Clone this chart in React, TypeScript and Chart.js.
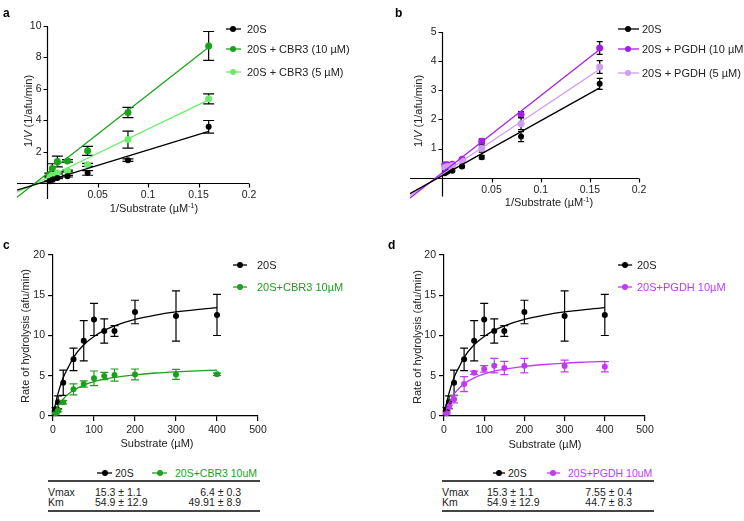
import React, { useEffect, useRef } from 'react';
import { Chart, registerables } from 'chart.js';
Chart.register(...registerables);

const FONT = "'Liberation Sans', Arial, Helvetica, sans-serif";

// ---------- colours ----------
const BLACK = '#000000';
const GREEN = '#19a319';
const LGREEN = '#6aee6a';
const PURPLE = '#a61ee6';
const LPURPLE = '#cf9cf2';
const CGREEN = '#1e9e1e';
const DPURPLE = '#c03af2';

// ---------- Lineweaver-Burk data (panels a, b) ----------
const lbX = [0.0025, 0.005, 0.01, 0.02, 0.04, 0.08, 0.16];
const a20S = [0.13, 0.23, 0.34, 0.45, 0.66, 1.47, 3.59];
const a20SErr = [0.03, 0.03, 0.05, 0.05, 0.15, 0.08, 0.4];
const aCbr10 = [0.55, 0.94, 1.38, 1.42, 2.06, 4.5, 8.73];
const aCbr10Err = [0.1, 0.3, 0.34, 0.08, 0.29, 0.32, 0.92];
const aCbr5 = [0.4, 0.51, 0.66, 0.78, 1.17, 2.78, 5.37];
const aCbr5Err = [0.05, 0.05, 0.06, 0.06, 0.1, 0.54, 0.32];

const aFitX = [-0.03, 0.16];
const aFit20S = [-0.44, 3.3];
const aFitCbr10 = [-0.89, 8.65];
const aFitCbr5 = [-0.57, 5.3];

const b20S = [0.15, 0.2, 0.24, 0.38, 0.7, 1.41, 3.22];
const b20SErr = [0.02, 0.02, 0.03, 0.04, 0.06, 0.17, 0.19];
const bPgdh10 = [0.44, 0.44, 0.46, 0.63, 1.25, 2.17, 4.45];
const bPgdh10Err = [0.03, 0.03, 0.03, 0.05, 0.08, 0.1, 0.22];
const bPgdh5 = [0.35, 0.38, 0.42, 0.58, 1.0, 1.85, 3.8];
const bPgdh5Err = [0.03, 0.03, 0.03, 0.05, 0.12, 0.2, 0.22];

const bFitX = [-0.033, 0.16];
const bFit20S = [-0.55, 3.08];
const bFitPgdh10 = [-0.7, 4.4];
const bFitPgdh5 = [-0.62, 3.72];

const lbXTicks = [0.05, 0.1, 0.15, 0.2];
const aYTicks = [2, 4, 6, 8, 10];
const bYTicks = [1, 2, 3, 4, 5];

// ---------- Michaelis-Menten data (panels c, d) ----------
const subX = [6.25, 12.5, 25, 50, 75, 100, 125, 150, 200, 300, 400];
const mm20S = [0.83, 1.7, 4.14, 7.04, 9.36, 12.0, 10.56, 10.56, 12.92, 12.42, 12.55];
const mm20SErr = [0.2, 0.8, 1.57, 1.4, 2.5, 2.0, 1.5, 0.66, 1.46, 3.12, 2.55];
const mmCbr3 = [0.33, 0.66, 1.7, 3.31, 3.97, 4.68, 4.97, 5.09, 5.17, 5.17, 5.18];
const mmCbr3Err = [0.1, 0.15, 0.2, 0.68, 0.39, 0.91, 0.44, 0.75, 0.67, 0.63, 0.15];
const mmPgdh = [0.33, 1.16, 2.07, 3.97, 5.38, 5.85, 6.25, 5.96, 6.25, 6.21, 6.12];
const mmPgdhErr = [0.1, 0.2, 0.45, 0.93, 0.2, 0.4, 0.9, 0.83, 0.9, 0.73, 0.63];

const fitX = [2, 6.25, 12.5, 25, 37.5, 50, 75, 100, 125, 150, 200, 250, 300, 350, 400];
const fit20S = [0.54, 1.58, 2.84, 4.79, 6.07, 7.29, 8.85, 9.88, 10.63, 11.2, 12.0, 12.54, 12.93, 13.22, 13.45];
const fitCbr3 = [0.25, 0.71, 1.28, 2.13, 2.74, 3.2, 3.84, 4.27, 4.57, 4.8, 5.12, 5.34, 5.49, 5.6, 5.69];
const fitPgdh = [0.32, 0.93, 1.65, 2.71, 3.44, 3.99, 4.73, 5.22, 5.56, 5.82, 6.17, 6.4, 6.57, 6.69, 6.79];

// ---------- table ----------
const paramNames = ['Vmax', 'Km'];
const params20S = ['15.3 ± 1.1', '54.9 ± 12.9'];
const paramsCbr3 = ['6.4 ± 0.3', '49.91 ± 8.9'];
const paramsPgdh = ['7.55 ± 0.4', '44.7 ± 8.3'];

const pts = (xs: number[], ys: number[]) => xs.map((x, i) => ({ x, y: ys[i] }));

// error bars drawn under each dataset's points
const errorBarPlugin = {
  id: 'errbars',
  beforeDatasetDraw(chart: any, args: any) {
    const ds = chart.data.datasets[args.index];
    if (!ds.errors) return;
    const { ctx } = chart;
    const x = chart.scales.x;
    const y = chart.scales.y;
    ctx.save();
    ctx.strokeStyle = ds.errColor;
    ctx.lineWidth = 1.2;
    ds.data.forEach((p: any, i: number) => {
      const e = ds.errors[i];
      if (!e) return;
      const px = x.getPixelForValue(p.x);
      const t = y.getPixelForValue(p.y + e);
      const b = y.getPixelForValue(p.y - e);
      const w = ds.capHalf;
      ctx.beginPath();
      ctx.moveTo(px, t);
      ctx.lineTo(px, b);
      ctx.moveTo(px - w, t);
      ctx.lineTo(px + w, t);
      ctx.moveTo(px - w, b);
      ctx.lineTo(px + w, b);
      ctx.stroke();
    });
    ctx.restore();
  },
};

// axes crossing at the origin (panels a, b)
const crossAxesPlugin = {
  id: 'crossAxes',
  beforeDatasetsDraw(chart: any, _a: any, opts: any) {
    const { ctx } = chart;
    const x = chart.scales.x;
    const y = chart.scales.y;
    const x0 = Math.round(x.getPixelForValue(0)) + 0.5;
    const y0 = Math.round(y.getPixelForValue(0)) + 0.5;
    ctx.save();
    ctx.strokeStyle = '#000';
    ctx.lineWidth = 1.2;
    ctx.beginPath();
    ctx.moveTo(x.left, y0);
    ctx.lineTo(x.right, y0);
    ctx.moveTo(x0, y.top);
    ctx.lineTo(x0, y.bottom);
    opts.xTicks.forEach((v: number) => {
      const p = Math.round(x.getPixelForValue(v)) + 0.5;
      ctx.moveTo(p, y0);
      ctx.lineTo(p, y0 + 4);
    });
    opts.yTicks.forEach((v: number) => {
      const p = Math.round(y.getPixelForValue(v)) + 0.5;
      ctx.moveTo(x0 - 4, p);
      ctx.lineTo(x0, p);
    });
    ctx.stroke();
    ctx.fillStyle = '#222';
    ctx.font = `10.5px ${FONT}`;
    ctx.textAlign = 'center';
    ctx.textBaseline = 'top';
    opts.xTicks.forEach((v: number) => ctx.fillText(String(v), x.getPixelForValue(v), y0 + 6));
    ctx.textAlign = 'right';
    ctx.textBaseline = 'middle';
    opts.yTicks.forEach((v: number) => ctx.fillText(String(v), x0 - 6, y.getPixelForValue(v)));
    ctx.restore();
  },
};

type Series = { y: number[]; err: number[]; color: string; errColor: string; r: number };
type Fit = { x: number[]; y: number[]; color: string };

function lbConfig(o: {
  padding: any; xMin: number; xMax: number; yMin: number; yMax: number;
  series: Series[]; fits: Fit[]; yTicks: number[]; cap: number;
}): any {
  const datasets: any[] = [];
  o.fits.forEach((f) =>
    datasets.push({
      data: pts(f.x, f.y), showLine: true, borderColor: f.color, borderWidth: 1.3,
      pointRadius: 0, clip: false, order: 0,
    })
  );
  o.series.forEach((s) =>
    datasets.push({
      data: pts(lbX, s.y), showLine: false, pointRadius: s.r, pointBorderWidth: 0,
      pointBackgroundColor: s.color, backgroundColor: s.color, borderColor: s.color,
      errors: s.err, errColor: s.errColor, capHalf: o.cap, clip: false,
    })
  );
  return {
    type: 'scatter',
    data: { datasets },
    options: {
      animation: false, responsive: false, events: [],
      layout: { padding: o.padding },
      plugins: { legend: { display: false }, tooltip: { enabled: false }, crossAxes: { xTicks: lbXTicks, yTicks: o.yTicks } },
      scales: {
        x: { type: 'linear', min: o.xMin, max: o.xMax, display: false },
        y: { type: 'linear', min: o.yMin, max: o.yMax, display: false },
      },
    },
    plugins: [errorBarPlugin, crossAxesPlugin],
  };
}

function mmConfig(o: { padding: any; series: Series[]; fits: Fit[]; cap: number }): any {
  const datasets: any[] = [];
  o.fits.forEach((f) =>
    datasets.push({
      data: pts(f.x, f.y), showLine: true, borderColor: f.color, borderWidth: 1.3,
      pointRadius: 0, cubicInterpolationMode: 'monotone',
    })
  );
  o.series.forEach((s) =>
    datasets.push({
      data: pts(subX, s.y), showLine: false, pointRadius: s.r, pointBorderWidth: 0,
      pointBackgroundColor: s.color, backgroundColor: s.color, borderColor: s.color,
      errors: s.err, errColor: s.errColor, capHalf: o.cap, clip: false,
    })
  );
  const tickFont = { family: FONT, size: 10.5 };
  return {
    type: 'scatter',
    data: { datasets },
    options: {
      animation: false, responsive: false, events: [],
      layout: { padding: o.padding },
      plugins: { legend: { display: false }, tooltip: { enabled: false } },
      scales: {
        x: {
          type: 'linear', min: 0, max: 500,
          ticks: { stepSize: 100, color: '#222', font: tickFont, padding: 3, maxRotation: 0 },
          grid: { drawOnChartArea: false, drawTicks: true, tickLength: 5, color: '#000', lineWidth: 1.2 },
          border: { display: true, color: '#000', width: 1.2 },
          afterFit: (s: any) => { s.height = 25; },
        },
        y: {
          type: 'linear', min: 0, max: 20,
          ticks: { stepSize: 5, color: '#222', font: tickFont, padding: 3 },
          grid: { drawOnChartArea: false, drawTicks: true, tickLength: 5, color: '#000', lineWidth: 1.2 },
          border: { display: true, color: '#000', width: 1.2 },
          afterFit: (s: any) => { s.width = 30; },
        },
      },
    },
    plugins: [errorBarPlugin],
  };
}

function ChartCanvas(p: { left: number; top: number; width: number; height: number; make: () => any }) {
  const ref = useRef<HTMLCanvasElement>(null);
  useEffect(() => {
    const chart = new Chart(ref.current as HTMLCanvasElement, p.make());
    return () => chart.destroy();
  }, []);
  return (
    <canvas
      ref={ref}
      width={p.width}
      height={p.height}
      style={{ position: 'absolute', left: p.left, top: p.top, width: p.width, height: p.height }}
    />
  );
}

function T(p: {
  x: number; y: number; children: any; size?: number; color?: string;
  align?: 'left' | 'center' | 'right'; bold?: boolean; rotate?: boolean;
}) {
  const a = p.align || 'center';
  const tx = a === 'center' ? '-50%' : a === 'right' ? '-100%' : '0';
  return (
    <div
      style={{
        position: 'absolute', left: p.x, top: p.y, whiteSpace: 'nowrap',
        transform: `translate(${tx}, -50%)${p.rotate ? ' rotate(-90deg)' : ''}`,
        fontSize: p.size || 11, lineHeight: 1, color: p.color || '#222',
        fontWeight: p.bold ? 'bold' : 'normal',
      }}
    >
      {p.children}
    </div>
  );
}

function Mark(p: { x1: number; x2: number; cx: number; y: number; color: string; r?: number }) {
  const r = p.r || 3;
  return (
    <svg
      width={p.x2 - p.x1 + 8}
      height={10}
      style={{ position: 'absolute', left: p.x1 - 4, top: p.y - 5, overflow: 'visible' }}
    >
      <line x1={4} y1={5} x2={p.x2 - p.x1 + 4} y2={5} stroke={p.color} strokeWidth={1.3} />
      <circle cx={p.cx - p.x1 + 4} cy={5} r={r} fill={p.color} />
    </svg>
  );
}

function Rule(p: { x1: number; x2: number; y: number }) {
  return <div style={{ position: 'absolute', left: p.x1, top: p.y - 0.75, width: p.x2 - p.x1, height: 1.5, background: '#444' }} />;
}

export default function App() {
  return (
    <div
      style={{
        position: 'absolute', left: 0, top: 0, width: 744, height: 521, background: '#fff',
        overflow: 'hidden', fontFamily: FONT, color: '#222',
      }}
    >
      {/* panel a */}
      <ChartCanvas
        left={0} top={0} width={380} height={230}
        make={() =>
          lbConfig({
            padding: { left: 17, right: 131, top: 26, bottom: 31 },
            xMin: -0.03, xMax: 0.2, yMin: -1, yMax: 10, yTicks: aYTicks, cap: 5.5,
            fits: [
              { x: aFitX, y: aFit20S, color: BLACK },
              { x: aFitX, y: aFitCbr10, color: GREEN },
              { x: aFitX, y: aFitCbr5, color: LGREEN },
            ],
            series: [
              { y: a20S, err: a20SErr, color: BLACK, errColor: BLACK, r: 3 },
              { y: aCbr5, err: aCbr5Err, color: LGREEN, errColor: BLACK, r: 3.5 },
              { y: aCbr10, err: aCbr10Err, color: GREEN, errColor: BLACK, r: 3.5 },
            ],
          })
        }
      />
      {/* panel b */}
      <ChartCanvas
        left={380} top={0} width={364} height={230}
        make={() =>
          lbConfig({
            padding: { left: 30, right: 105, top: 32, bottom: 33.4 },
            xMin: -0.033, xMax: 0.2, yMin: -0.65, yMax: 5, yTicks: bYTicks, cap: 3,
            fits: [
              { x: bFitX, y: bFit20S, color: BLACK },
              { x: bFitX, y: bFitPgdh10, color: PURPLE },
              { x: bFitX, y: bFitPgdh5, color: LPURPLE },
            ],
            series: [
              { y: b20S, err: b20SErr, color: BLACK, errColor: BLACK, r: 3 },
              { y: bPgdh5, err: bPgdh5Err, color: LPURPLE, errColor: BLACK, r: 3.5 },
              { y: bPgdh10, err: bPgdh10Err, color: PURPLE, errColor: BLACK, r: 3.5 },
            ],
          })
        }
      />
      {/* panel c */}
      <ChartCanvas
        left={0} top={235} width={380} height={225}
        make={() =>
          mmConfig({
            padding: { left: 23, right: 122, top: 20, bottom: 19 }, cap: 4,
            fits: [
              { x: fitX, y: fit20S, color: BLACK },
              { x: fitX, y: fitCbr3, color: CGREEN },
            ],
            series: [
              { y: mmCbr3, err: mmCbr3Err, color: CGREEN, errColor: CGREEN, r: 3 },
              { y: mm20S, err: mm20SErr, color: BLACK, errColor: BLACK, r: 3 },
            ],
          })
        }
      />
      {/* panel d */}
      <ChartCanvas
        left={380} top={235} width={364} height={225}
        make={() =>
          mmConfig({
            padding: { left: 34, right: 99, top: 20, bottom: 19 }, cap: 4,
            fits: [
              { x: fitX, y: fit20S, color: BLACK },
              { x: fitX, y: fitPgdh, color: DPURPLE },
            ],
            series: [
              { y: mmPgdh, err: mmPgdhErr, color: DPURPLE, errColor: DPURPLE, r: 3 },
              { y: mm20S, err: mm20SErr, color: BLACK, errColor: BLACK, r: 3 },
            ],
          })
        }
      />

      {/* panel letters */}
      <T x={3} y={13} align="left" bold size={12} color="#000">a</T>
      <T x={395} y={13} align="left" bold size={12} color="#000">b</T>
      <T x={3} y={245} align="left" bold size={12} color="#000">c</T>
      <T x={388} y={245} align="left" bold size={12} color="#000">d</T>

      {/* axis titles */}
      <T x={154} y={208}>1/Substrate (µM<sup style={{ fontSize: 7 }}>-1</sup>)</T>
      <T x={28} y={111} rotate>1/<i>V</i> (1/afu/min)</T>
      <T x={549} y={202}>1/Substrate (µM<sup style={{ fontSize: 7 }}>-1</sup>)</T>
      <T x={418} y={111} rotate>1/<i>V</i> (1/afu/min)</T>
      <T x={157} y={443}>Substrate (µM)</T>
      <T x={25} y={336} rotate>Rate of hydrolysis (afu/min)</T>
      <T x={545} y={444}>Substrate (µM)</T>
      <T x={417} y={337} rotate>Rate of hydrolysis (afu/min)</T>

      {/* legend a */}
      <Mark x1={226} x2={241} cx={233} y={29} color={BLACK} />
      <T x={247} y={29} align="left">20S</T>
      <Mark x1={226} x2={241} cx={233} y={49} color={GREEN} />
      <T x={247} y={49} align="left">20S + CBR3 (10 µM)</T>
      <Mark x1={226} x2={241} cx={233} y={72} color={LGREEN} />
      <T x={247} y={72} align="left">20S + CBR3 (5 µM)</T>

      {/* legend b */}
      <Mark x1={618} x2={639} cx={628} y={29} color={BLACK} />
      <T x={642} y={29} align="left">20S</T>
      <Mark x1={618} x2={639} cx={628} y={49} color={PURPLE} />
      <T x={642} y={49} align="left">20S + PGDH (10 µM)</T>
      <Mark x1={618} x2={639} cx={628} y={73} color={LPURPLE} />
      <T x={642} y={73} align="left">20S + PGDH (5 µM)</T>

      {/* legend c */}
      <Mark x1={233} x2={247} cx={240} y={265} color={BLACK} />
      <T x={257} y={265} align="left">20S</T>
      <Mark x1={233} x2={247} cx={240} y={287} color={CGREEN} />
      <T x={257} y={287} align="left" color={CGREEN}>20S+CBR3 10µM</T>

      {/* legend d */}
      <Mark x1={618} x2={632} cx={625} y={265} color={BLACK} />
      <T x={637} y={265} align="left">20S</T>
      <Mark x1={618} x2={632} cx={625} y={287} color={DPURPLE} />
      <T x={637} y={287} align="left" color={DPURPLE}>20S+PGDH 10µM</T>

      {/* table c */}
      <Mark x1={97} x2={112} cx={105} y={473} color={BLACK} />
      <T x={115} y={473} align="left" size={10.5}>20S</T>
      <Mark x1={152} x2={167} cx={160} y={473} color={CGREEN} />
      <T x={175} y={473} align="left" size={10.5} color={CGREEN}>20S+CBR3 10uM</T>
      <Rule x1={48} x2={260} y={481} />
      {paramNames.map((n, i) => (
        <React.Fragment key={'c' + n}>
          <T x={48} y={492 + i * 10} align="left" size={10.5}>{n}</T>
          <T x={95} y={492 + i * 10} align="left" size={10.5}>{params20S[i]}</T>
          <T x={241} y={492 + i * 10} align="right" size={10.5}>{paramsCbr3[i]}</T>
        </React.Fragment>
      ))}
      <Rule x1={48} x2={260} y={511} />

      {/* table d */}
      <Mark x1={493} x2={505} cx={499} y={473} color={BLACK} />
      <T x={508} y={473} align="left" size={10.5}>20S</T>
      <Mark x1={547} x2={560} cx={553} y={473} color={DPURPLE} />
      <T x={568} y={473} align="left" size={10.5} color={DPURPLE}>20S+PGDH 10uM</T>
      <Rule x1={442} x2={654} y={481} />
      {paramNames.map((n, i) => (
        <React.Fragment key={'d' + n}>
          <T x={442} y={492 + i * 10} align="left" size={10.5}>{n}</T>
          <T x={487} y={492 + i * 10} align="left" size={10.5}>{params20S[i]}</T>
          <T x={632} y={492 + i * 10} align="right" size={10.5}>{paramsPgdh[i]}</T>
        </React.Fragment>
      ))}
      <Rule x1={442} x2={654} y={511} />
    </div>
  );
}
